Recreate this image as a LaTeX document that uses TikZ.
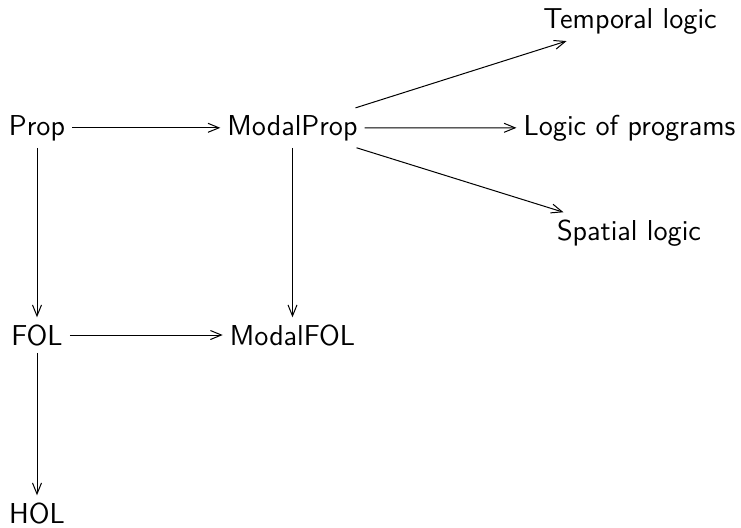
\documentclass[tikz,border=0pt]{standalone}
\usetikzlibrary{arrows.meta}
\begin{document}
\begin{tikzpicture}[x=0.5pt,y=-0.5pt,line width=0.5pt,>={Straight Barb[length=5.5pt,width=4.5pt]},font=\Large\sffamily,logic/.style={anchor=base}]
\useasboundingbox (0,0) rectangle (741,527);
\node[logic] (prop) at (37,135) {Prop};
\node[logic] (modalprop) at (292.5,135) {ModalProp};
\node[logic] (temporal) at (630,28) {Temporal logic};
\node[logic] (programs) at (629.5,135) {Logic of programs};
\node[logic] (spatial) at (629,240) {Spatial logic};
\node[logic] (fol) at (37,345) {FOL};
\node[logic] (modalfol) at (292.5,345) {ModalFOL};
\node[logic] (hol) at (37,523) {HOL};
\draw [->] (prop) -- (modalprop);
\draw [->] (modalprop) -- (temporal);
\draw [->] (modalprop) -- (programs);
\draw [->] (modalprop) -- (spatial);
\draw [->] (prop) -- (fol);
\draw [->] (modalprop) -- (modalfol);
\draw [->] (fol) -- (modalfol);
\draw [->] (fol) -- (hol);
\end{tikzpicture}
\end{document}
